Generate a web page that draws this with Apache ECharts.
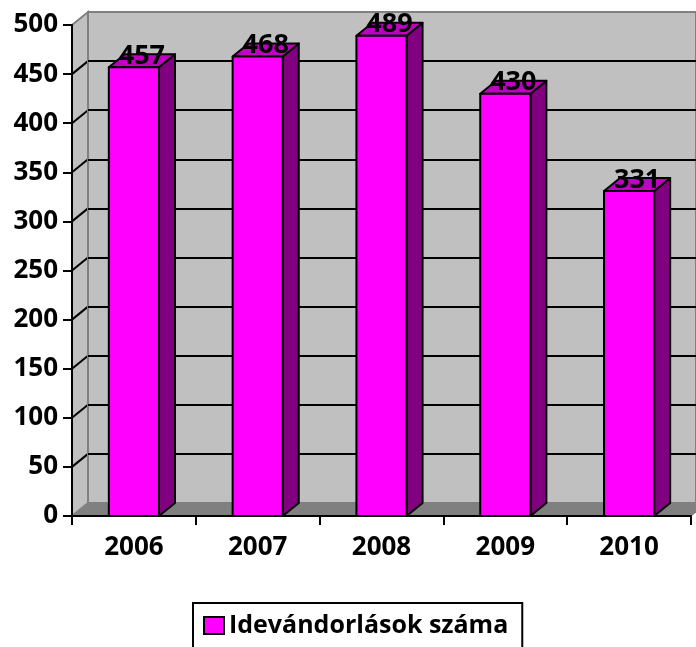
<!DOCTYPE html>
<html>
<head>
<meta charset="utf-8">
<script src="https://cdn.jsdelivr.net/npm/echarts@6/dist/echarts.min.js"></script>
<style>
html,body{margin:0;padding:0;background:#fff;}
#chart{width:696px;height:647px;}
</style>
</head>
<body>
<div id="chart"></div>
<script>
const categories = ['2006', '2007', '2008', '2009', '2010'];
const values = [457, 468, 489, 430, 331];
const yTicks = [0, 50, 100, 150, 200, 250, 300, 350, 400, 450, 500];
const seriesName = 'Idevándorlások száma';

const FONT = '"Open Sans", "Noto Sans", sans-serif';
const DX = 16, DY = 13;

const chart = echarts.init(document.getElementById('chart'), null, {renderer: 'canvas'});

function renderWalls(params, api) {
  const cs = params.coordSys;
  const x = cs.x, y = cs.y, w = cs.width, h = cs.height;
  const children = [];
  children.push({
    type: 'polygon',
    shape: {points: [[x, y + h], [x + w, y + h], [x + w + DX, y + h - DY], [x + DX, y + h - DY]]},
    style: {fill: '#808080', stroke: '#6e6e6e', lineWidth: 1}
  });
  children.push({
    type: 'polygon',
    shape: {points: [[x, y + h], [x, y], [x + DX, y - DY], [x + DX, y + h - DY]]},
    style: {fill: '#C0C0C0', stroke: '#808080', lineWidth: 2}
  });
  for (let i = 1; i < yTicks.length - 1; i++) {
    const p = api.coord([0, yTicks[i]]);
    children.push({
      type: 'line',
      shape: {x1: x, y1: p[1], x2: x + DX, y2: p[1] - DY},
      style: {stroke: '#000', lineWidth: 2}
    });
  }
  return {type: 'group', children: children};
}

function renderBar(params, api) {
  const idx = api.value(0);
  const v = api.value(1);
  const top = api.coord([idx, v]);
  const base = api.coord([idx, 0]);
  const band = api.size([1, 0])[0];
  const w = band * 0.405;
  const x0 = top[0] - w / 2, x1 = top[0] + w / 2;
  const yt = top[1], yb = base[1];
  const stroke = {stroke: '#000', lineWidth: 2, lineJoin: 'round'};
  return {
    type: 'group',
    children: [
      {type: 'polygon', shape: {points: [[x1, yb], [x1, yt], [x1 + DX, yt - DY], [x1 + DX, yb - DY]]},
       style: Object.assign({fill: '#800080'}, stroke)},
      {type: 'polygon', shape: {points: [[x0, yt], [x1, yt], [x1 + DX, yt - DY], [x0 + DX, yt - DY]]},
       style: Object.assign({fill: '#C000C0'}, stroke)},
      {type: 'rect', shape: {x: x0, y: yt, width: w, height: yb - yt},
       style: Object.assign({fill: '#FF00FF'}, stroke)},
      {type: 'text', z2: 10,
       style: {text: String(v), x: (x0 + x1) / 2 + DX / 2, y: yt - 11,
               fill: '#000', font: 'bold 27px ' + FONT, align: 'center', verticalAlign: 'middle'}}
    ]
  };
}

const option = {
  animation: false,
  backgroundColor: '#fff',
  grid: [
    {left: 72, right: 5, top: 25, bottom: 131},
    {left: 72 + DX, right: 5 - DX, top: 25 - DY, bottom: 131 + DY, show: true,
     backgroundColor: '#C0C0C0', borderColor: '#808080', borderWidth: 2}
  ],
  xAxis: [
    {type: 'category', gridIndex: 0, data: categories, boundaryGap: true,
     axisLine: {show: true, lineStyle: {color: '#000', width: 2}},
     axisTick: {show: true, length: 9, lineStyle: {color: '#000', width: 2}},
     axisLabel: {color: '#000', fontSize: 26, fontWeight: 'bold', fontFamily: FONT, margin: 19},
     splitLine: {show: false}},
    {type: 'category', gridIndex: 1, data: categories, show: false}
  ],
  yAxis: [
    {type: 'value', gridIndex: 0, min: 0, max: 500, interval: 50,
     axisLine: {show: true, lineStyle: {color: '#000', width: 2}},
     axisTick: {show: true, length: 9, lineStyle: {color: '#000', width: 2}},
     axisLabel: {color: '#000', fontSize: 26, fontWeight: 'bold', fontFamily: FONT, margin: 14},
     splitLine: {show: false}},
    {type: 'value', gridIndex: 1, min: 0, max: 500, interval: 50,
     axisLine: {show: false}, axisTick: {show: false}, axisLabel: {show: false},
     splitLine: {show: true, showMinLine: false, showMaxLine: false, lineStyle: {color: '#000', width: 2}}}
  ],
  legend: {
    left: 193, top: 603,
    data: [seriesName],
    icon: 'rect', itemWidth: 20, itemHeight: 17,
    itemStyle: {color: '#FF00FF', borderColor: '#000', borderWidth: 2},
    borderColor: '#000', borderWidth: 2,
    padding: [10, 14, 30, 10],
    textStyle: {color: '#000', fontSize: 25, fontWeight: 'bold', fontFamily: FONT},
    selectedMode: false
  },
  series: [
    {type: 'custom', name: 'walls', xAxisIndex: 0, yAxisIndex: 0, z: -1, silent: true,
     renderItem: renderWalls, data: [[0, 0]], clip: false, legendHoverLink: false},
    {type: 'custom', name: seriesName, xAxisIndex: 0, yAxisIndex: 0, z: 2,
     itemStyle: {color: '#FF00FF', borderColor: '#000', borderWidth: 2},
     renderItem: renderBar, clip: false,
     data: categories.map((c, i) => [i, values[i]])}
  ]
};
chart.setOption(option);
</script>
</body>
</html>
